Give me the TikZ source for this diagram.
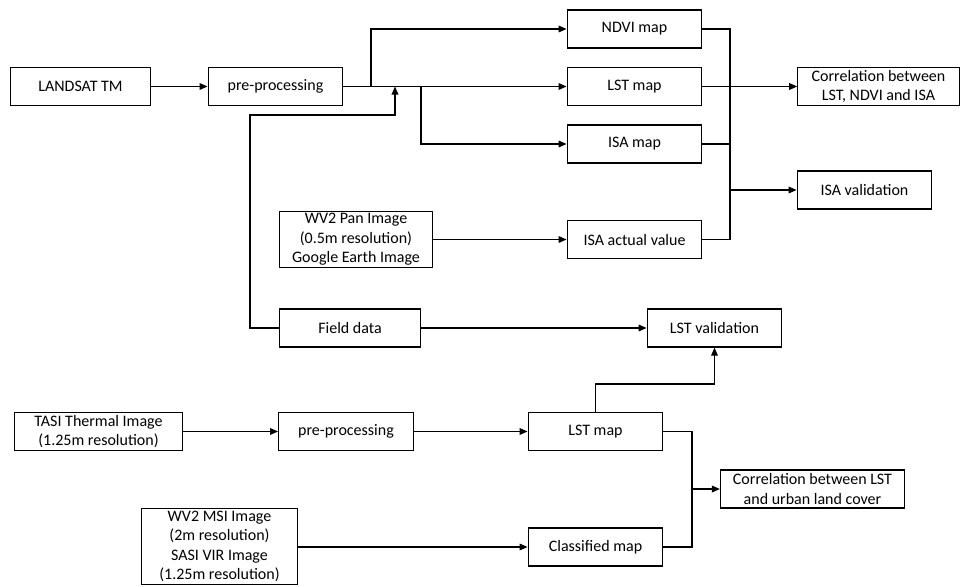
\documentclass[tikz,border=0pt]{standalone}
\usepackage{fontspec}
\setmainfont{Carlito}
\usetikzlibrary{arrows.meta}

\tikzset{
  box/.style={draw, line width=0.9pt, minimum width=101pt, minimum height=28.5pt,
              inner sep=1pt, align=center, font=\fontsize{12}{14.5}\selectfont},
  arr/.style={-{Triangle[length=6pt,width=5pt]}},
}

\begin{document}
\begin{tikzpicture}[x=0.75pt, y=-0.75pt, line width=0.9pt]
  \useasboundingbox (0,0) rectangle (961,586);

    % LANDSAT branch
    \node[box, minimum width=105pt] (landsat) at (80.5, 86.5){LANDSAT TM};
    \node[box] (pre1) at (275.5, 86.5){pre-processing};
      \node[box] (ndvi) at (634.5, 29){NDVI map};
      \node[box] (lst1) at (634.5, 86.5){LST map};
      \node[box] (isa) at (634.5, 144){ISA map};
      \node[box] (isaact) at (634.5, 239.5){ISA actual value};
    \node[box, minimum width=121pt] (corr1) at (878.5, 86.5){Correlation between\\LST, NDVI and ISA};
    \node[box] (isaval) at (864.5, 190){ISA validation};
    \node[box, minimum width=115pt, minimum height=42.5pt] (wv2pan) at (356, 239.5){WV2 Pan Image\\(0.5m resolution)\\Google Earth Image};
    \node[box, minimum width=106pt] (field) at (350, 328){Field data};
    \node[box] (lstval) at (714.5, 328){LST validation};

    % TASI branch
    \node[box, minimum width=126pt] (tasi) at (98.5, 431.5){TASI Thermal Image\\(1.25m resolution)};
    \node[box] (pre2) at (346, 431.5){pre-processing};
    \node[box] (lst2) at (595.5, 431.5){LST map};
    \node[box] (class) at (595.5, 547){Classified map};
    \node[box, minimum width=138pt] (corr2) at (812.5, 489){Correlation between LST\\and urban land cover};
    \node[box, minimum width=117pt, minimum height=57pt] (wv2msi) at (219.5, 546.5){WV2 MSI Image\\(2m resolution)\\SASI VIR Image\\(1.25m resolution)};

    \coordinate (s1) at (371, 86.5);
    \coordinate (s2) at (421, 86.5);
    \coordinate (j1) at (395, 86.5);
    \coordinate (bus1) at (730, 29);
    \coordinate (bus2) at (692, 431.5);

    \draw[arr] (landsat) -- (pre1);
    \draw[arr] (pre1) -- (lst1);
    \draw[arr] (s1) |- (ndvi);
    \draw[arr] (s2) |- (isa);
    \draw[arr] (field.west) -| (250, 115) -| (j1);
    \draw[arr] (wv2pan) -- (isaact.west |- wv2pan.east);

    \draw (ndvi.east) -- (bus1) |- (isaact.east);
    \draw (isa.east) -- (isa.east -| bus1);
    \draw[arr] (lst1) -- (corr1);
    \draw[arr] (bus1 |- isaval.west) -- (isaval);
    \draw[arr] (field) -- (lstval.west |- field.east);

    \draw[arr] (tasi) -- (pre2);
    \draw[arr] (pre2) -- (lst2);
    \draw[arr] (lst2.north) -- ++(0,-28) -| (lstval.south);
    \draw[arr] (wv2msi.east |- class.west) -- (class.west);
    \draw (lst2.east) -- (bus2) |- (class.east);
    \draw[arr] (bus2 |- corr2.west) -- (corr2);
  \end{tikzpicture}
\end{document}
